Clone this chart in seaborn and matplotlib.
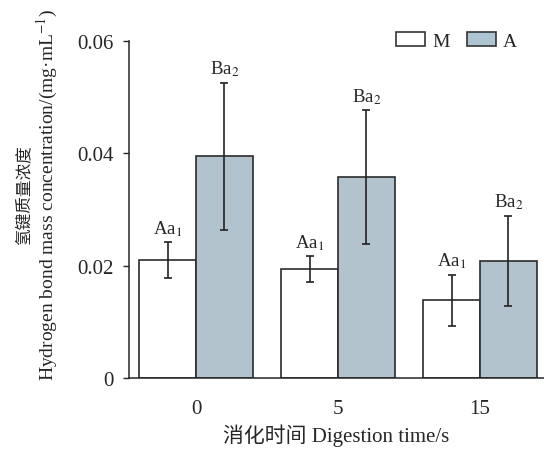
import pandas as pd
import matplotlib
matplotlib.use("Agg")
import matplotlib.pyplot as plt
import matplotlib.patches as mpatches
import seaborn as sns

# values
times = ["0", "5", "15"]
m_mean = [0.0210, 0.0194, 0.0138]
m_err = [0.0032, 0.0023, 0.0046]
a_mean = [0.0395, 0.0358, 0.0209]
a_err = [0.0131, 0.0119, 0.0080]
m_tag = [r"Aa$_1$", r"Aa$_1$", r"Aa$_1$"]
a_tag = [r"Ba$_2$", r"Ba$_2$", r"Ba$_2$"]

sns.set_style("ticks")
plt.rcParams["font.family"] = ["Liberation Serif", "Noto Sans CJK SC"]
plt.rcParams["mathtext.fontset"] = "stix"

df = pd.DataFrame({
    "time": times * 2,
    "group": ["M"] * 3 + ["A"] * 3,
    "value": m_mean + a_mean,
})

fig = plt.figure(figsize=(5.44, 4.52), dpi=100)
ax = fig.add_axes([0.237, 0.1615, 0.763, 0.7455])

blue = "#adc4d2"
sns.barplot(data=df, x="time", y="value", hue="group", order=times,
            hue_order=["M", "A"], palette={"M": "white", "A": blue},
            errorbar=None, width=0.8, edgecolor="#2b2b2b", linewidth=1.2,
            legend=False, ax=ax)

# error bars + letters at the bar centres
bars = ax.patches
n = len(times)
for i in range(n):
    for bar, mean, err, tag in [(bars[i], m_mean[i], m_err[i], m_tag[i]),
                                 (bars[n + i], a_mean[i], a_err[i], a_tag[i])]:
        xc = bar.get_x() + bar.get_width() / 2
        ax.errorbar(xc, mean, yerr=err, fmt="none", ecolor="#222222",
                    elinewidth=1.2, capsize=3, capthick=1.2)
        ax.text(xc, mean + err + 0.0008, tag, ha="center", va="bottom",
                fontsize=13.5)

ax.set_xlim(-0.472, 2.45)
ax.set_ylim(0, 0.06)
ax.set_yticks([0, 0.02, 0.04, 0.06])
ax.set_yticklabels(["0", "0.02", "0.04", "0.06"])
ax.tick_params(axis="y", direction="out", length=4, width=1, labelsize=15, pad=7)
ax.tick_params(axis="x", length=0, labelsize=15, pad=15)
sns.despine(ax=ax)
ax.spines["left"].set_linewidth(1.1)
ax.spines["bottom"].set_linewidth(1.1)

ax.set_xlabel("消化时间 Digestion time/s", fontsize=15, labelpad=4)
ax.set_ylabel("")
# two-line y label, the Chinese line is set smaller
ax.text(-0.196, 0.546, "Hydrogen bond mass concentration/(mg·mL$^{-1}$)",
        transform=ax.transAxes, rotation=90, ha="center", va="center", fontsize=14)
ax.text(-0.251, 0.545, "氢键质量浓度", transform=ax.transAxes, rotation=90,
        ha="center", va="center", fontsize=12)

handles = [mpatches.Patch(facecolor="white", edgecolor="#333333", linewidth=1.2, label="M"),
           mpatches.Patch(facecolor=blue, edgecolor="#333333", linewidth=1.2, label="A")]
ax.legend(handles=handles, ncol=2, frameon=False, loc="center right",
          bbox_to_anchor=(0.935, 1.0), borderaxespad=0, borderpad=0,
          fontsize=14, handlelength=1.5, handleheight=0.67,
          handletextpad=0.35, columnspacing=0.9)

fig.savefig("out.png", dpi=100)
